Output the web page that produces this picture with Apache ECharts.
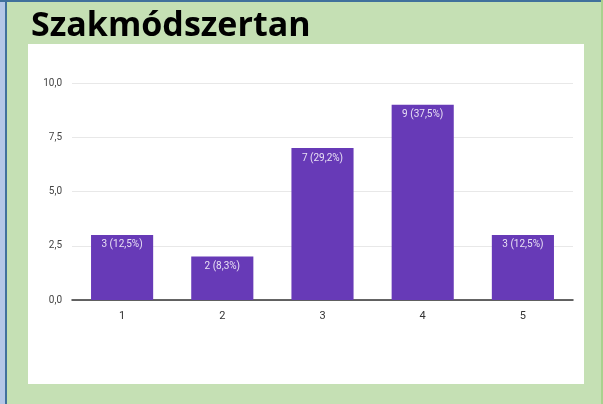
<!DOCTYPE html>
<html><head><meta charset="utf-8">
<script src="https://cdn.jsdelivr.net/npm/echarts@6/dist/echarts.min.js"></script>
<style>html,body{margin:0;padding:0;background:#c5e0b4}#c{width:603px;height:404px}</style>
</head><body><div id="c"></div>
<script>
const titleText = 'Szakmódszertan';
const categories = ['1', '2', '3', '4', '5'];
const counts = [3, 2, 7, 9, 3];
const percents = ['12,5', '8,3', '29,2', '37,5', '12,5'];
const yTicks = [0, 2.5, 5, 7.5, 10];

const chart = echarts.init(document.getElementById('c'), null, {renderer: 'canvas'});
chart.setOption({
  backgroundColor: '#c5e0b4',
  animation: false,
  graphic: [
    {type: 'rect', left: 0, top: 0, shape: {width: 5, height: 404}, style: {fill: '#b4c7e7'}, z: -10},
    {type: 'rect', left: 5, top: 0, shape: {width: 2, height: 404}, style: {fill: '#41719c'}, z: -10},
    {type: 'rect', left: 0, top: 0, shape: {width: 603, height: 2}, style: {fill: '#41719c'}, z: -10},
    {type: 'rect', left: 601, top: 0, shape: {width: 2, height: 404}, style: {fill: '#a9d18e'}, z: -10},
    {type: 'rect', left: 28, top: 44, shape: {width: 556, height: 340}, style: {fill: '#ffffff'}, z: -9}
  ],
  title: {
    text: titleText, left: 26, top: 4,
    textStyle: {fontFamily: 'Open Sans', fontWeight: 'bold', fontSize: 34, color: '#000'}
  },
  grid: {left: 72, right: 30, top: 83, bottom: 104},
  xAxis: {
    type: 'category', data: categories,
    axisTick: {show: false},
    axisLine: {lineStyle: {color: '#333', width: 1.5}},
    axisLabel: {fontFamily: 'Roboto', fontSize: 11, color: '#333', margin: 11}
  },
  yAxis: {
    type: 'value', min: 0, max: 10, interval: 2.5,
    axisLine: {show: false}, axisTick: {show: false},
    splitLine: {lineStyle: {color: '#e8e8e8'}},
    axisLabel: {
      fontFamily: 'Roboto', fontSize: 10, color: '#444', margin: 10,
      formatter: v => yTicks.includes(v) ? v.toFixed(1).replace('.', ',') : ''
    }
  },
  series: [{
    type: 'bar', data: counts, barWidth: '62%',
    itemStyle: {color: '#673ab7'},
    label: {
      show: true, position: 'insideTop', distance: 5,
      fontFamily: 'Roboto', fontSize: 10, color: '#e8e0f4',
      formatter: p => p.value + ' (' + percents[p.dataIndex] + '%)'
    }
  }]
});
</script></body></html>
